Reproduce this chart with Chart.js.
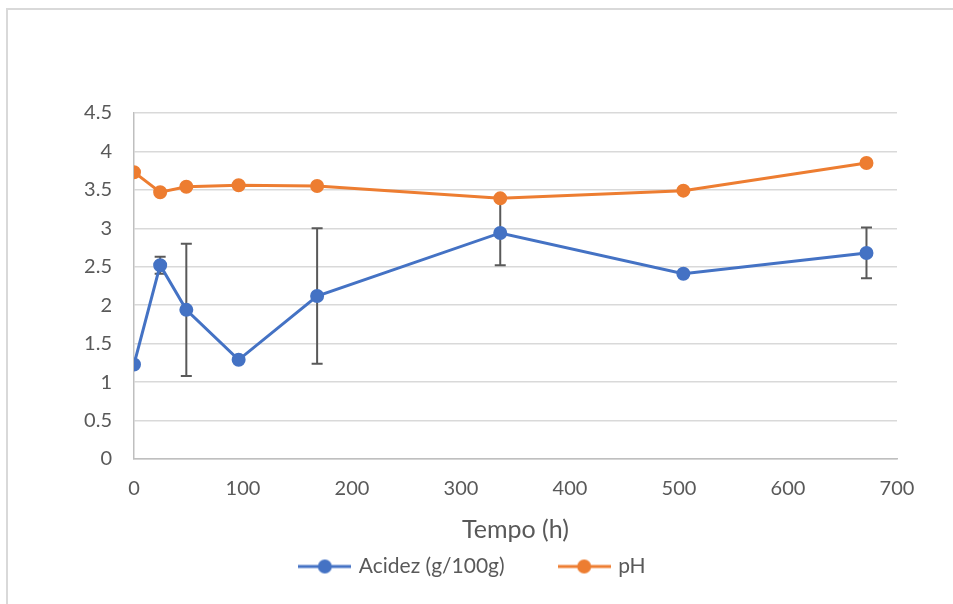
<!DOCTYPE html>
<html lang="pt-BR">

<head>
    <meta charset="UTF-8">
    <title>Acidez e pH</title>
    <script src="https://cdn.jsdelivr.net/npm/chart.js"></script>

    <style>
        body {
            margin: 0;
            padding: 0;
            background-color: #fff;
            overflow: hidden;
        }

        .frame {
            position: absolute;
            left: 6px;
            top: 8px;
            width: 1000px;
            height: 700px;
            border: 2px solid #d9d9d9;
        }

        canvas {
            position: absolute;
            left: 0;
            top: 0;
        }
    </style>
</head>

<body>
    <div class="frame"></div>
    <canvas id="chart" width="953" height="604"></canvas>

    <script>
        // dados
        const tempo = [0, 24, 48, 96, 168, 336, 504, 672];
        const acidez = [1.23, 2.52, 1.94, 1.29, 2.12, 2.94, 2.41, 2.68];
        const acidezErro = [0, 0.11, 0.86, 0, 0.88, 0.42, 0, 0.33];
        const ph = [3.73, 3.47, 3.54, 3.56, 3.55, 3.39, 3.49, 3.85];

        const AZUL = '#4472C4';
        const LARANJA = '#ED7D31';
        const TEXTO = '#595959';
        const FONTE = 'Lato, "Open Sans", sans-serif';

        // icone da legenda: linha com marcador
        function iconeLegenda(cor) {
            const c = document.createElement('canvas');
            c.width = 53;
            c.height = 16;
            const g = c.getContext('2d');
            g.strokeStyle = cor;
            g.lineWidth = 3;
            g.beginPath();
            g.moveTo(0, 8);
            g.lineTo(53, 8);
            g.stroke();
            g.fillStyle = cor;
            g.beginPath();
            g.arc(26.5, 8, 7, 0, Math.PI * 2);
            g.fill();
            return c;
        }

        // barras de erro da acidez
        const barrasErro = {
            id: 'barrasErro',
            beforeDatasetsDraw(chart) {
                const ctx = chart.ctx;
                const xs = chart.scales.x;
                const ys = chart.scales.y;
                ctx.save();
                ctx.strokeStyle = '#595959';
                ctx.lineWidth = 2;
                tempo.forEach((t, i) => {
                    const e = acidezErro[i];
                    if (!e) return;
                    const px = xs.getPixelForValue(t);
                    const top = ys.getPixelForValue(acidez[i] + e);
                    const bot = ys.getPixelForValue(acidez[i] - e);
                    ctx.beginPath();
                    ctx.moveTo(px, top);
                    ctx.lineTo(px, bot);
                    ctx.moveTo(px - 5.5, top);
                    ctx.lineTo(px + 5.5, top);
                    ctx.moveTo(px - 5.5, bot);
                    ctx.lineTo(px + 5.5, bot);
                    ctx.stroke();
                });
                ctx.restore();
            }
        };

        const pontos = (ys) => tempo.map((t, i) => ({ x: t, y: ys[i] }));

        new Chart(document.getElementById('chart'), {
            type: 'line',
            data: {
                datasets: [{
                    label: 'Acidez (g/100g)',
                    data: pontos(acidez),
                    borderColor: AZUL,
                    backgroundColor: AZUL,
                    borderWidth: 3,
                    pointRadius: 6,
                    pointBorderWidth: 2,
                    pointStyle: 'circle',
                    tension: 0
                }, {
                    label: 'pH',
                    data: pontos(ph),
                    borderColor: LARANJA,
                    backgroundColor: LARANJA,
                    borderWidth: 3,
                    pointRadius: 6,
                    pointBorderWidth: 2,
                    pointStyle: 'circle',
                    tension: 0
                }]
            },
            options: {
                responsive: false,
                animation: false,
                layout: { padding: { left: 50, right: 56, top: 113, bottom: 17 } },
                scales: {
                    x: {
                        type: 'linear',
                        min: 0,
                        max: 700,
                        ticks: { stepSize: 100, padding: 18, color: TEXTO, font: { family: FONTE, size: 20 } },
                        grid: { display: false, drawTicks: false },
                        border: { color: '#bfbfbf', width: 1.5 },
                        title: {
                            display: true,
                            text: 'Tempo (h)',
                            color: TEXTO,
                            font: { family: FONTE, size: 25 },
                            padding: { top: 0, bottom: -45 }
                        },
                        afterFit(scale) { scale.height = 41; }
                    },
                    y: {
                        min: 0,
                        max: 4.5,
                        ticks: {
                            stepSize: 0.5,
                            padding: 22,
                            color: TEXTO,
                            font: { family: FONTE, size: 20 },
                            callback: (v) => String(+v.toFixed(1))
                        },
                        grid: { color: '#d9d9d9', lineWidth: 1.5, drawTicks: false },
                        border: { color: '#bfbfbf', width: 1.5 },
                        afterFit(scale) { scale.width = 84; }
                    }
                },
                plugins: {
                    legend: {
                        position: 'bottom',
                        labels: {
                            color: TEXTO,
                            font: { family: FONTE, size: 21 },
                            usePointStyle: true,
                            pointStyleWidth: 47,
                            padding: 56,
                            generateLabels(chart) {
                                return chart.data.datasets.map((ds, i) => ({
                                    text: ds.label,
                                    fontColor: TEXTO,
                                    pointStyle: iconeLegenda(ds.borderColor),
                                    lineWidth: 0,
                                    strokeStyle: ds.borderColor,
                                    fillStyle: ds.borderColor,
                                    datasetIndex: i,
                                    hidden: false
                                }));
                            }
                        }
                    },
                    tooltip: { enabled: false }
                }
            },
            plugins: [barrasErro]
        });
    </script>
</body>

</html>
